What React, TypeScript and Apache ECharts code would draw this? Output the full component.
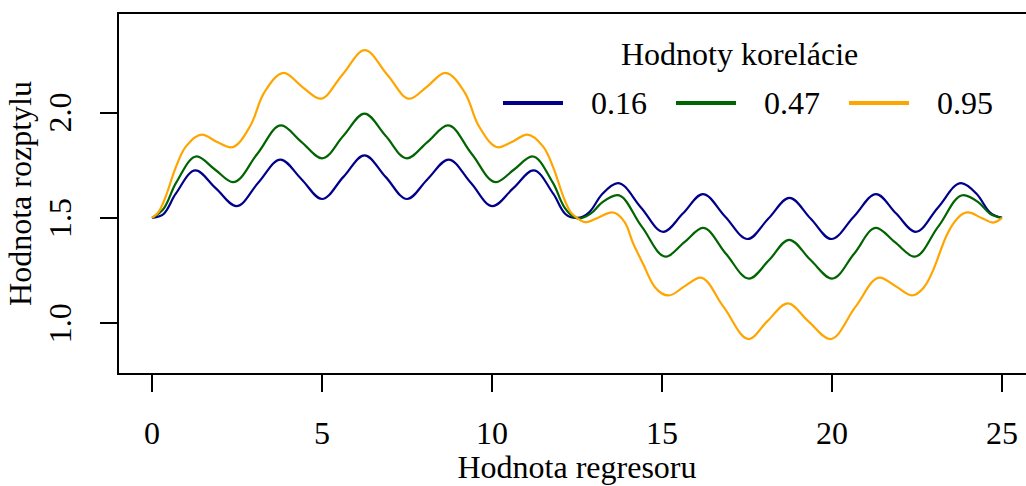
import React, { useEffect, useRef } from "react";
import * as echarts from "echarts";

const xTicks = [0, 5, 10, 15, 20, 25];
const yTicks = [1.0, 1.5, 2.0];
const seriesNames = ["0.16", "0.47", "0.95"];
const seriesColors = ["#00008B", "#006400", "#FFA500"];

const corr016: [number, number][] = [
  [0, 1.5], [0.35, 1.52], [0.7, 1.615], [1.28, 1.726], [1.88, 1.64], [2.48, 1.556],
  [3.13, 1.668], [3.78, 1.777], [4.39, 1.685], [5.0, 1.59], [5.63, 1.695], [6.25, 1.797],
  [6.87, 1.695], [7.5, 1.59], [8.11, 1.685], [8.72, 1.777], [9.37, 1.668], [10.02, 1.556],
  [10.62, 1.64], [11.22, 1.726], [11.8, 1.615], [12.15, 1.52], [12.5, 1.5], [12.85, 1.525],
  [13.25, 1.615], [13.7, 1.665], [14.38, 1.55], [15.04, 1.434], [15.62, 1.522], [16.2, 1.613],
  [16.86, 1.506], [17.52, 1.4], [18.13, 1.497], [18.75, 1.595], [19.37, 1.497], [19.98, 1.4],
  [20.64, 1.506], [21.3, 1.613], [21.88, 1.522], [22.46, 1.434], [23.12, 1.55], [23.8, 1.665],
  [24.25, 1.615], [24.65, 1.525], [25, 1.5],
];

const corr047: [number, number][] = [
  [0, 1.5], [0.35, 1.545], [0.72, 1.67], [1.32, 1.792], [1.85, 1.73], [2.38, 1.67],
  [3.1, 1.805], [3.8, 1.939], [4.4, 1.86], [5.0, 1.783], [5.63, 1.89], [6.25, 1.995],
  [6.87, 1.89], [7.5, 1.783], [8.1, 1.86], [8.7, 1.939], [9.4, 1.805], [10.12, 1.67],
  [10.65, 1.73], [11.18, 1.792], [11.78, 1.67], [12.15, 1.545], [12.55, 1.497], [12.9, 1.52],
  [13.25, 1.575], [13.68, 1.608], [14.4, 1.46], [15.12, 1.316], [15.66, 1.385], [16.2, 1.453],
  [16.88, 1.33], [17.56, 1.212], [18.15, 1.3], [18.74, 1.396], [19.37, 1.3], [20.0, 1.212],
  [20.65, 1.33], [21.3, 1.453], [21.85, 1.385], [22.42, 1.316], [23.13, 1.46], [23.87, 1.608],
  [24.3, 1.575], [24.65, 1.52], [25, 1.5],
];

const corr095: [number, number][] = [
  [0, 1.5], [0.2, 1.53], [0.4, 1.6], [0.7, 1.74], [1.0, 1.84], [1.47, 1.896], [1.9, 1.862],
  [2.32, 1.835], [2.88, 1.934], [3.3, 2.095], [3.88, 2.189], [4.4, 2.125], [4.94, 2.066],
  [5.6, 2.18], [6.26, 2.297], [6.92, 2.18], [7.58, 2.066], [8.1, 2.125], [8.62, 2.189],
  [9.2, 2.095], [9.62, 1.934], [10.2, 1.835], [10.6, 1.862], [11.03, 1.896], [11.5, 1.84],
  [11.8, 1.74], [12.1, 1.6], [12.3, 1.53], [12.5, 1.5], [12.74, 1.48], [13.1, 1.5],
  [13.53, 1.526], [13.9, 1.48], [14.15, 1.38], [14.45, 1.28], [14.8, 1.17], [15.2, 1.132],
  [15.66, 1.175], [16.12, 1.217], [16.8, 1.08], [17.56, 0.925], [18.1, 1.01], [18.7, 1.094],
  [19.3, 1.01], [19.94, 0.925], [20.7, 1.08], [21.41, 1.217], [21.88, 1.175], [22.35, 1.132],
  [22.7, 1.17], [22.97, 1.25], [23.38, 1.42], [23.7, 1.5], [24.0, 1.526], [24.4, 1.5],
  [24.74, 1.478], [25, 1.5],
];

const seriesData = [corr016, corr047, corr095];

const FONT = "'Liberation Serif', 'Times New Roman', serif";

export default function App() {
  const ref = useRef<HTMLDivElement>(null);
  useEffect(() => {
    if (!ref.current) return;
    const chart = echarts.init(ref.current, null, { renderer: "svg" });
    const textBase = { fontFamily: FONT, fontSize: 32, color: "#000" };
    chart.setOption({
      animation: false,
      backgroundColor: "#fff",
      title: {
        text: "Hodnoty korelácie",
        left: 621,
        top: 38,
        padding: 0,
        textStyle: { ...textBase, fontWeight: "normal" },
      },
      legend: {
        data: seriesNames,
        left: 503,
        top: 87,
        padding: 0,
        orient: "horizontal",
        icon: "rect",
        itemWidth: 60,
        itemHeight: 4,
        itemGap: 29,
        textStyle: { ...textBase, padding: [0, 0, 0, 23] },
      },
      grid: {
        left: 118,
        top: 13,
        width: 918,
        height: 361,
        show: true,
        borderColor: "#000",
        borderWidth: 2,
        backgroundColor: "transparent",
        containLabel: false,
        outerBoundsMode: "none",
      },
      xAxis: {
        type: "value",
        min: -1,
        max: 26,
        name: "Hodnota regresoru",
        nameLocation: "middle",
        nameGap: 77,
        nameMoveOverlap: false,
        nameTextStyle: textBase,
        axisLine: { show: false, onZero: false },
        splitLine: { show: false },
        axisTick: {
          show: true,
          inside: false,
          length: 18,
          customValues: xTicks,
          lineStyle: { color: "#000", width: 2 },
        },
        axisLabel: {
          ...textBase,
          margin: 43,
          customValues: xTicks,
          formatter: (v: number) => String(v),
        },
      },
      yAxis: {
        type: "value",
        min: 0.759,
        max: 2.473,
        name: "Hodnota rozptylu",
        nameLocation: "middle",
        nameGap: 82,
        nameMoveOverlap: false,
        nameTextStyle: textBase,
        axisLine: { show: false, onZero: false },
        splitLine: { show: false },
        axisTick: {
          show: true,
          inside: false,
          length: 18,
          customValues: yTicks,
          lineStyle: { color: "#000", width: 2 },
        },
        axisLabel: {
          ...textBase,
          margin: 42,
          rotate: 90,
          customValues: yTicks,
          formatter: (v: number) => v.toFixed(1),
        },
      },
      series: seriesData.map((d, i) => ({
        name: seriesNames[i],
        type: "line",
        data: d,
        showSymbol: false,
        symbol: "none",
        smooth: 0.35,
        color: seriesColors[i],
        lineStyle: { color: seriesColors[i], width: 2.2 },
      })),
    });
    return () => chart.dispose();
  }, []);
  return (
    <div
      ref={ref}
      style={{ position: "absolute", left: 0, top: 0, width: 1026, height: 486 }}
    />
  );
}
